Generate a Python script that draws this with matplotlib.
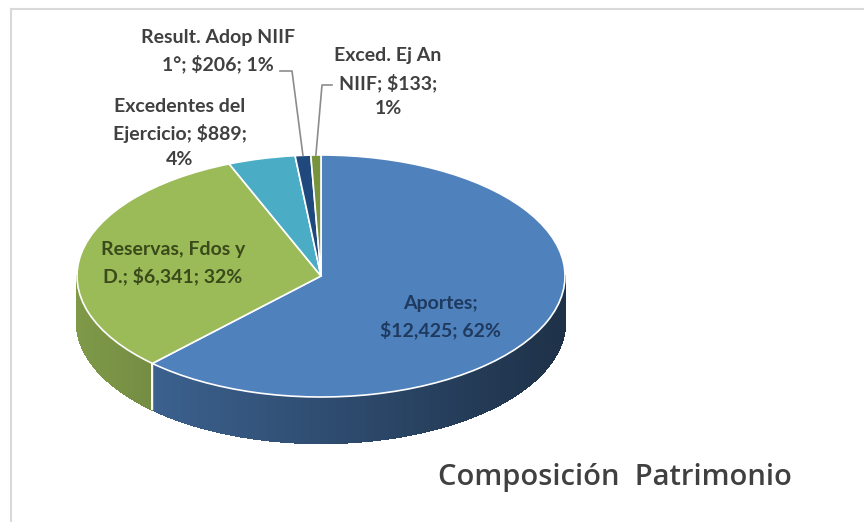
import numpy as np
import matplotlib.pyplot as plt
from matplotlib.collections import PolyCollection
from matplotlib.colors import to_rgb
from matplotlib.lines import Line2D

# patrimonio composition (millions)
names = ['Aportes', 'Reservas, Fdos y D.', 'Excedentes del Ejercicio',
         'Result. Adop NIIF 1°', 'Exced. Ej An NIIF']
values = [12425, 6341, 889, 206, 133]
colors = ['#4F81BD', '#9BBB59', '#4BACC6', '#1F497D', '#77933C']
# label layout templates (name; value; percent) with line breaks
label_fmt = ['Aportes;\n{v}; {p}',
             'Reservas, Fdos y\nD.; {v}; {p}',
             'Excedentes del\nEjercicio; {v};\n{p}',
             'Result. Adop NIIF\n1°; {v}; {p}',
             'Exced. Ej An\nNIIF; {v};\n{p}']
label_color = ['#1F3A5F', '#3A4A1A', '#404040', '#404040', '#404040']
title = 'Composición  Patrimonio'

total = sum(values)
pcts = [round(v / total * 100) for v in values]
texts = [f.format(v=f'${v:,}', p=f'{p}%') for f, v, p in zip(label_fmt, values, pcts)]

W, H = 864, 522
fig = plt.figure(figsize=(W / 100, H / 100), dpi=100)
ax = fig.add_axes([0, 0, 1, 1])

# pixel geometry of the pie top face
cx, cy, rx, ry = 321.0, 276.0, 244.0, 121.0
depth = 46.0 / ry  # side height in data units

def px(x, y):
    return (x - cx) / rx, (cy - y) / ry

wedges, _ = ax.pie(values, colors=colors, startangle=90, counterclock=False,
                   radius=1, wedgeprops=dict(edgecolor='white', linewidth=1.2))
for w in wedges:
    w.set_zorder(3)

# side walls: only the front half (sin < 0) is visible
polys, fcs = [], []
for w, c in zip(wedges, colors):
    t1, t2 = np.radians(w.theta1), np.radians(w.theta2)
    ts = np.linspace(t1, t2, max(int((t2 - t1) * 200), 2))
    base = np.array(to_rgb(c))
    for a, b in zip(ts[:-1], ts[1:]):
        m = 0.5 * (a + b)
        if np.sin(m) >= 0:
            continue
        polys.append([(np.cos(a), np.sin(a)), (np.cos(b), np.sin(b)),
                      (np.cos(b), np.sin(b) - depth), (np.cos(a), np.sin(a) - depth)])
        f = 0.60 - 0.22 * np.cos(m)
        fcs.append(np.clip(base * f, 0, 1))
ax.add_collection(PolyCollection(polys, facecolors=fcs, edgecolors=fcs,
                                 linewidths=1.0, antialiaseds=False, zorder=1))

# white seams where slices meet on the front side
for w in wedges:
    for t in (w.theta1, w.theta2):
        r = np.radians(t)
        if np.sin(r) < -0.05:
            ax.plot([np.cos(r)] * 2, [np.sin(r), np.sin(r) - depth],
                    color='white', lw=1.2, zorder=2)

ax.set_aspect('auto')
ax.set_xlim(-cx / rx, (W - cx) / rx)
ax.set_ylim((cy - H) / ry, cy / ry)
ax.axis('off')

lab_kw = dict(ha='center', va='center', fontsize=14, fontweight='bold',
              family=['Lato', 'DejaVu Sans'], linespacing=1.55, zorder=5)
label_px = [(440, 317), (173, 263), (180, 133), (218, 51), (388, 82)]
for t, (x, y), col in zip(texts, label_px, label_color):
    ax.text(*px(x, y), t, color=col, **lab_kw)

# leader lines for the two thin slices
elbows = {3: [(280, 71), (292, 71)], 4: [(332, 85), (322, 85)]}
for i, pts in elbows.items():
    mid = np.radians(0.5 * (wedges[i].theta1 + wedges[i].theta2))
    xs = [px(*p)[0] for p in pts] + [np.cos(mid)]
    ys = [px(*p)[1] for p in pts] + [np.sin(mid)]
    ax.plot(xs, ys, color='#8C8C8C', lw=1.2, zorder=4)

ax.text(*px(615, 478), title, ha='center', va='center', fontsize=21,
        fontweight='semibold', family=['Open Sans', 'DejaVu Sans'], color='#404040')

# chart area border
fig.add_artist(Line2D([11 / W, 1], [1 - 8.5 / H] * 2, color='#D9D9D9', lw=1.5))
fig.add_artist(Line2D([11 / W] * 2, [0, 1 - 8.5 / H], color='#D9D9D9', lw=1.5))

fig.savefig('out.png', dpi=100, facecolor='white')
